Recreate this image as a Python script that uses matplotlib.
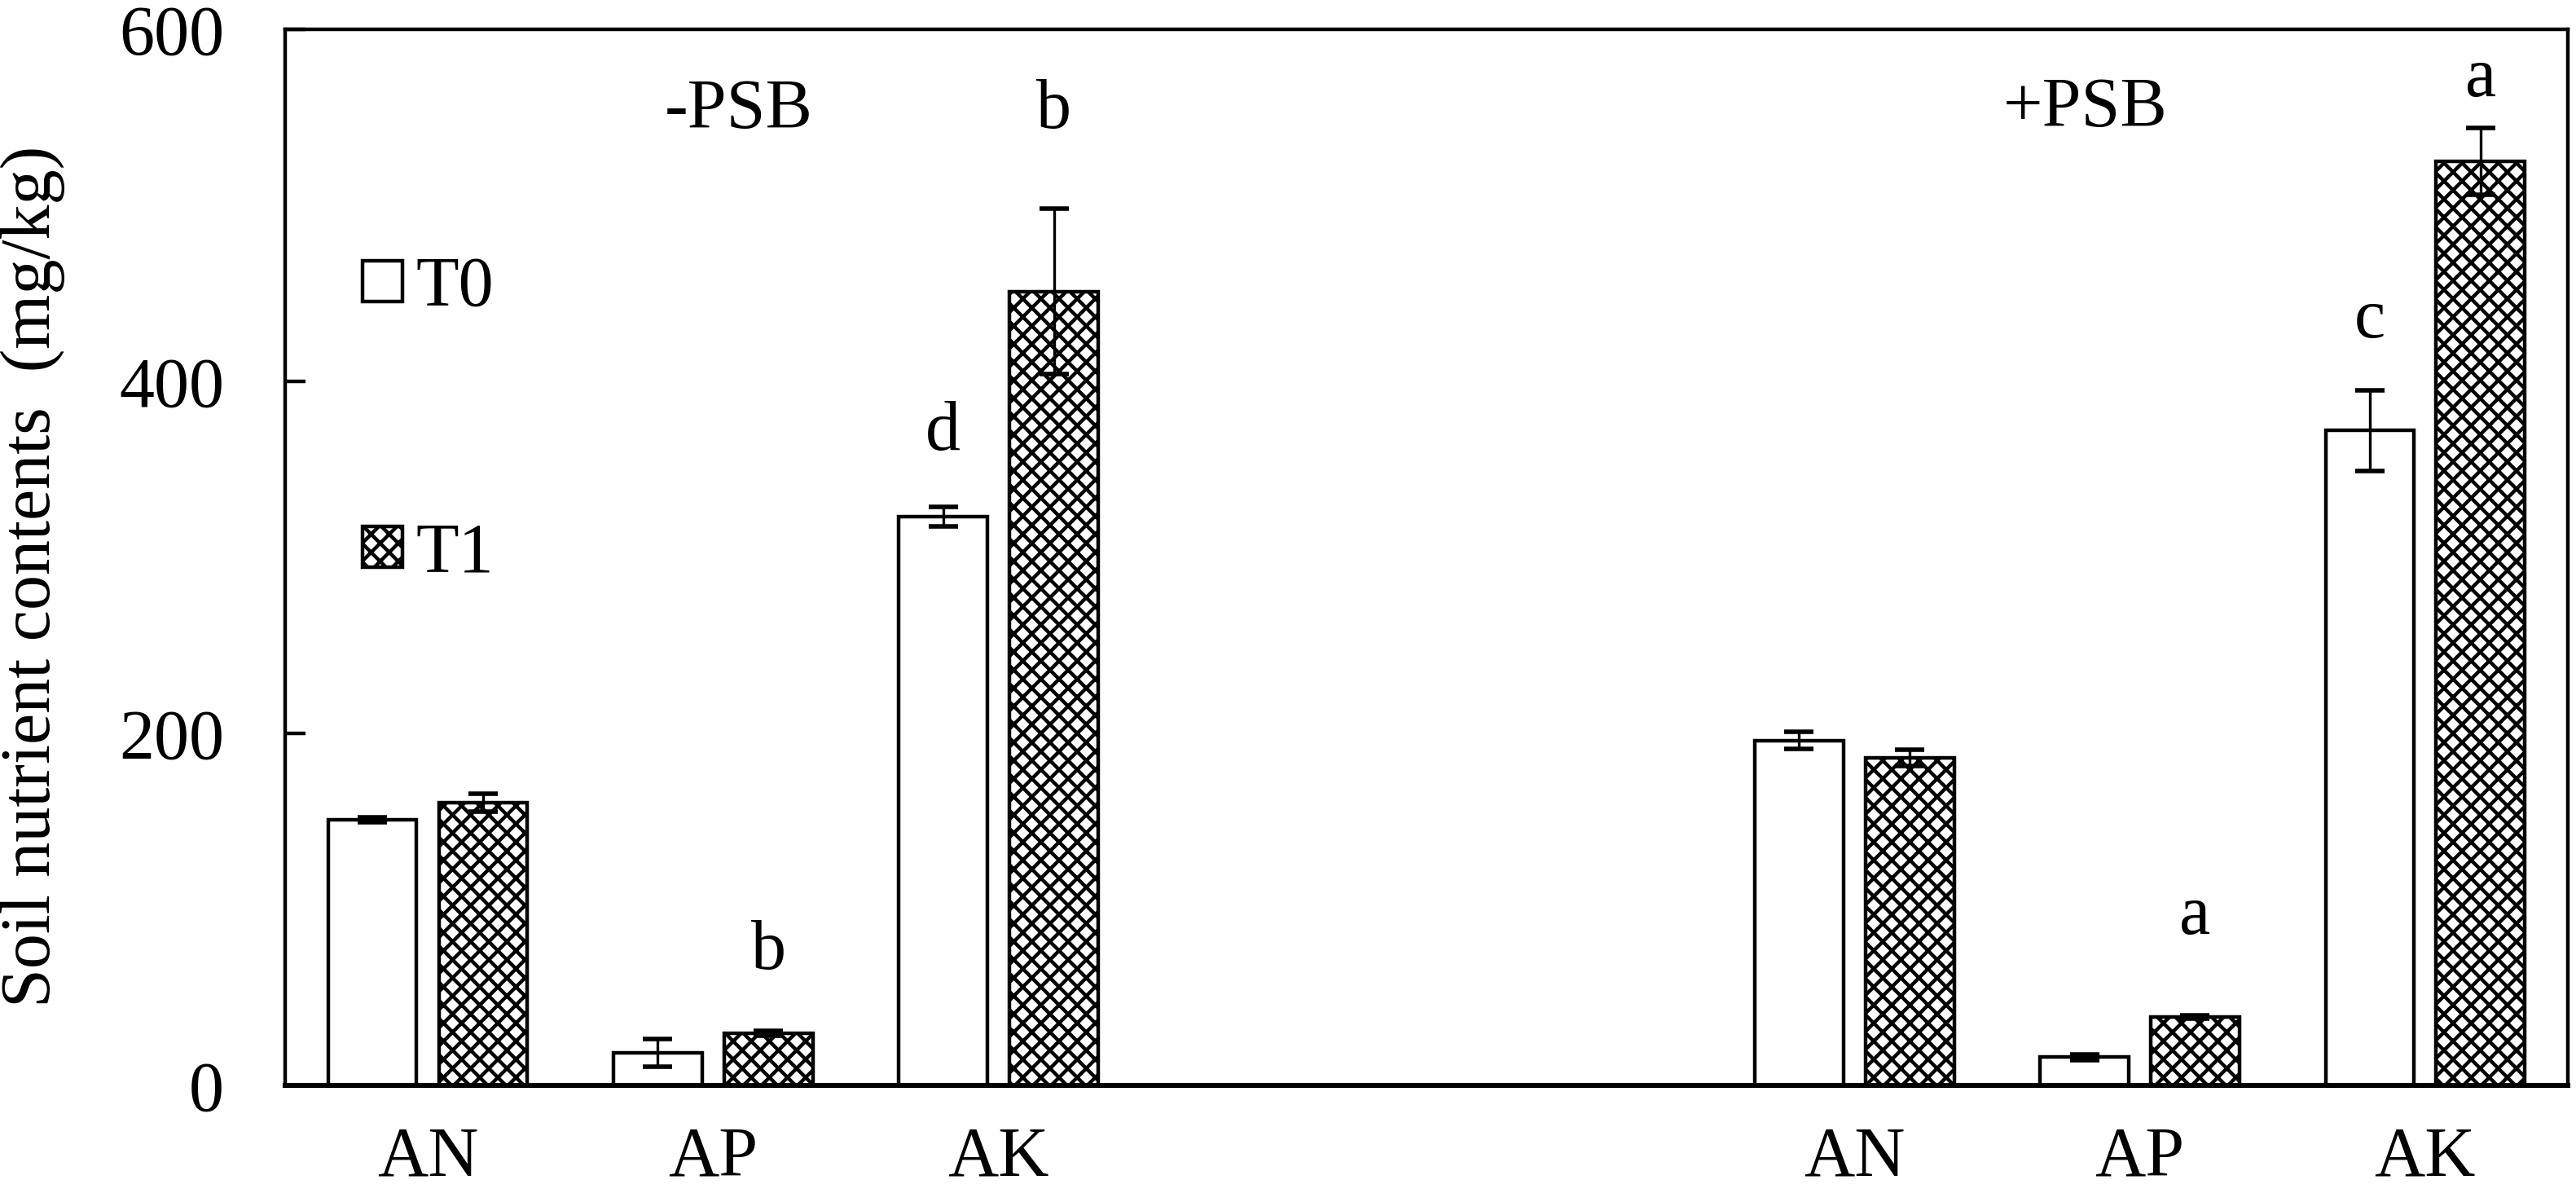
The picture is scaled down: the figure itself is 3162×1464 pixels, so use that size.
import matplotlib
matplotlib.use("Agg")
import matplotlib.pyplot as plt
import numpy as np

plt.rcParams['font.family'] = ['Liberation Serif', 'DejaVu Serif']
plt.rcParams['hatch.linewidth'] = 1.6

# nutrient labels for the two treatment groups (-PSB, +PSB)
nutrients = ["AN", "AP", "AK", "AN", "AP", "AK"]
positions = [0, 1, 2, 5, 6, 7]

# T0 / T1 means and error bars (mg/kg)
t0_vals = [151, 18.5, 323, 196, 16, 372]
t0_err = [1.5, 8, 5.5, 5, 1.5, 23]
t1_vals = [160.5, 29.5, 451, 186, 39, 525]
t1_err = [5, 1.5, 47, 4.5, 1, 19]

# significance letters: (position index, series, letter, baseline y)
letters_pos = [1, 2, 2, 6, 7, 7]
letters_series = ["T1", "T0", "T1", "T1", "T0", "T1"]
letters_txt = ["b", "d", "b", "a", "c", "a"]
letters_y = [66, 361, 544, 86, 425, 562]

group_labels = ["-PSB", "+PSB"]
group_x = [1.09, 5.81]
group_y = [544, 545]

fs = 31
width = 0.31
off = 0.194

fig = plt.figure(figsize=(15.81, 7.32), dpi=200)
ax = fig.add_axes([0.1107, 0.0902, 0.8861, 0.8852])

x = np.array(positions, dtype=float)
ekw = dict(elinewidth=1.2, capthick=2.0, ecolor="black", zorder=4)
b0 = ax.bar(x - off, t0_vals, width, color="white", edgecolor="black",
            linewidth=1.6, label="T0", zorder=2)
b1 = ax.bar(x + off, t1_vals, width, color="white", edgecolor="black",
            linewidth=1.6, hatch="xxx", label="T1", zorder=2)
ax.errorbar(x - off, t0_vals, yerr=t0_err, fmt="none", capsize=6.5, **ekw)
ax.errorbar(x + off, t1_vals, yerr=t1_err, fmt="none", capsize=6.5, **ekw)

for p, s, t, yy in zip(letters_pos, letters_series, letters_txt, letters_y):
    xx = p - off if s == "T0" else p + off
    ax.text(xx, yy, t, ha="center", va="baseline", fontsize=fs)

for g, gx, gy in zip(group_labels, group_x, group_y):
    ax.text(gx, gy, g, ha="center", va="baseline", fontsize=fs)

ax.set_xlim(-0.5, 7.5)
ax.set_ylim(0, 600)
ax.set_yticks([0, 200, 400, 600])
ax.set_xticks(positions)
ax.set_xticklabels(nutrients)
ax.tick_params(axis="y", direction="in", length=9, width=1.6, pad=27, labelsize=fs)
ax.tick_params(axis="x", length=0, pad=18, labelsize=fs)
for sp in ax.spines.values():
    sp.set_linewidth(1.6)
ax.spines["bottom"].set_linewidth(2.2)

leg = ax.legend(handles=[b0, b1], loc="upper left", bbox_to_anchor=(0.034, 0.785),
                frameon=False, fontsize=fs, handlelength=0.56, handleheight=0.52,
                handletextpad=0.2, labelspacing=2.87, borderpad=0, borderaxespad=0)

fig.text(40 / 3162, 0.517, "Soil nutrient contents  (mg/kg)", rotation=90,
         ha="center", va="center", fontsize=fs)

fig.savefig("out.png", dpi=200)
